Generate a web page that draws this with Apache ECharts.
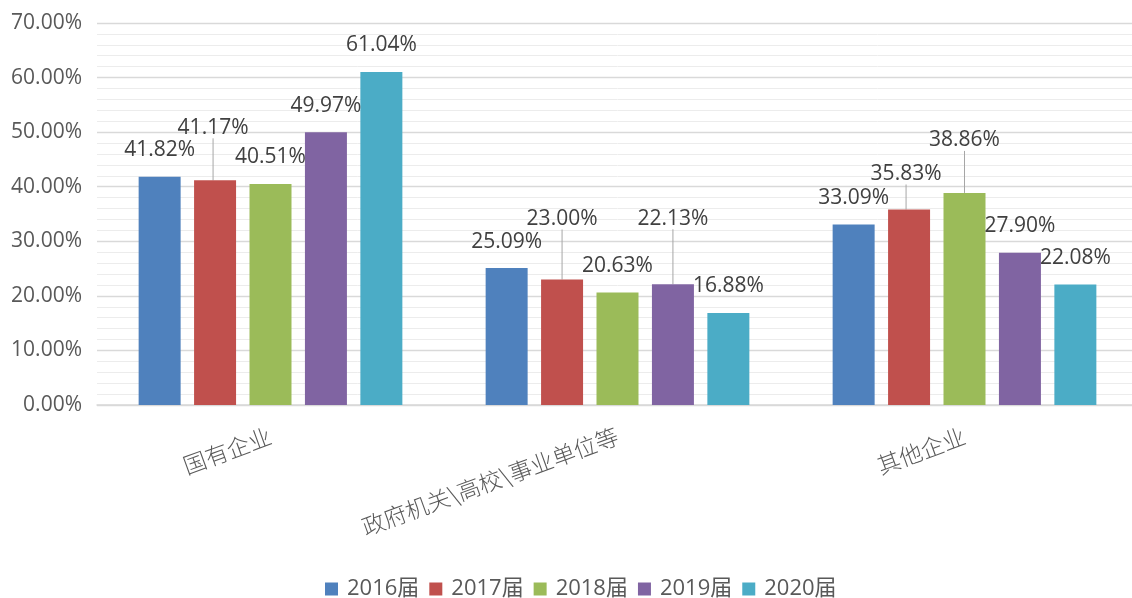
<!DOCTYPE html>
<html><head><meta charset="utf-8">
<script src="https://cdn.jsdelivr.net/npm/echarts@6/dist/echarts.min.js"></script>
<style>html,body{margin:0;padding:0;background:#fff;overflow:hidden}#c{width:1140px;height:598px}</style>
</head><body><div id="c"></div>
<script>
const categories = ['国有企业', '政府机关\\高校\\事业单位等', '其他企业'];
const seriesNames = ['2016届', '2017届', '2018届', '2019届', '2020届'];
const s2016 = [41.82, 25.09, 33.09];
const s2017 = [41.17, 23.00, 35.83];
const s2018 = [40.51, 20.63, 38.86];
const s2019 = [49.97, 22.13, 27.90];
const s2020 = [61.04, 16.88, 22.08];
const yTicks = [0, 10, 20, 30, 40, 50, 60, 70];
const values = [s2016, s2017, s2018, s2019, s2020];

const colors = ['#4F81BD', '#C0504D', '#9BBB59', '#8064A2', '#4BACC6'];
// label lifts (px) for labels moved away with leader lines: [series][category]
const lift = [[0,0,0],[26,34,9],[0,0,26],[0,39,0],[0,0,0]];
const shiftX = [[0,0,0],[-2,0,-3],[0,0,0],[0,0,0],[0,0,0]];

const chart = echarts.init(document.getElementById('c'), null, {renderer: 'canvas'});
const numFont = "'Open Sans', 'Liberation Sans', sans-serif";
const series = values.map((arr, si) => ({
  name: seriesNames[si],
  type: 'bar',
  barGap: '32%',
  barCategoryGap: '24%',
  itemStyle: {color: colors[si]},
  data: arr.map((v, ci) => ({
    value: v,
    labelLine: {show: lift[si][ci] > 0, lineStyle: {color: '#a6a6a6', width: 1}}
  })),
  label: {
    show: true, position: 'top', distance: 16,
    color: '#404040', fontSize: 21, fontFamily: numFont,
    formatter: p => p.value.toFixed(2) + '%'
  },
  labelLine: {show: false, lineStyle: {color: '#a6a6a6', width: 1}}
}));

chart.setOption({
  animation: false,
  color: colors,
  grid: {left: 97, top: 23, width: 1041, height: 382, containLabel: false},
  legend: {
    top: 573, left: 320, itemWidth: 13, itemHeight: 13, itemGap: 10,
    icon: 'rect',
    textStyle: {color: '#595959', fontSize: 22, fontFamily: numFont + ", 'Noto Sans CJK SC'", padding: [0, 0, 0, 4]},
    data: seriesNames
  },
  xAxis: {
    type: 'category', data: categories,
    axisLine: {show: true, lineStyle: {color: '#d9d9d9', width: 1.5}},
    axisTick: {show: false},
    axisLabel: {
      interval: 0, rotate: 20, margin: 30,
      color: '#595959', fontSize: 23,
      fontFamily: "'Noto Sans CJK SC', sans-serif", fontWeight: 300
    }
  },
  yAxis: {
    type: 'value', min: 0, max: 70, interval: 10,
    axisLine: {show: false}, axisTick: {show: false},
    axisLabel: {
      margin: 15, color: '#595959', fontSize: 21, fontFamily: numFont,
      formatter: v => yTicks.indexOf(v) >= 0 ? v.toFixed(2) + '%' : ''
    },
    splitLine: {lineStyle: {color: '#d9d9d9', width: 1.3}},
    minorTick: {show: false, splitNumber: 5},
    minorSplitLine: {show: true, lineStyle: {color: '#ececec', width: 1}}
  },
  labelLayout: function (p) {
    const si = p.seriesIndex, ci = p.dataIndex;
    return {dy: -lift[si][ci], dx: shiftX[si][ci]};
  },
  series: series
});
</script></body></html>
